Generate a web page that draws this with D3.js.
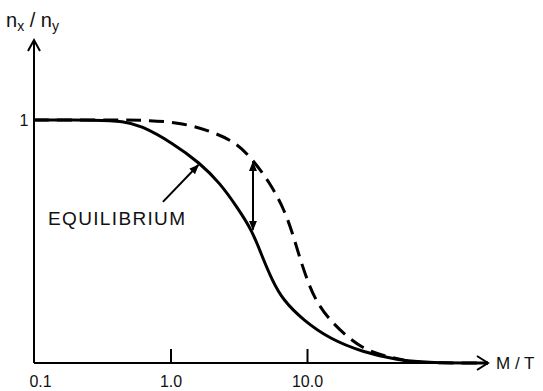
<!DOCTYPE html>
<html>
<head>
<meta charset="utf-8">
<script src="https://cdn.jsdelivr.net/npm/d3@7"></script>
<style>
  body { margin: 0; background: #fff; }
  svg { font-family: "Liberation Sans", Arial, sans-serif; }
</style>
</head>
<body>
<svg id="chart"></svg>
<script>
// equilibrium curve (solid) : M/T vs n_x/n_y
const eqMT  = [0.1, 0.3, 0.45, 0.6, 1.04, 1.64, 2.3, 3.07, 3.95, 4.68, 5.54, 6.67, 9.35, 14.7, 25.7, 45.6, 80, 212];
const eqVal = [1.0, 1.0, 0.995, 0.979, 0.905, 0.823, 0.741, 0.642, 0.547, 0.44, 0.342, 0.259, 0.177, 0.099, 0.045, 0.012, 0.0, 0.0];
// actual curve (dashed)
const acMT  = [0.1, 0.4, 0.7, 1.23, 2.05, 3.07, 4.02, 5.36, 6.9, 8.03, 9.04, 10.35, 11.6, 14.0, 19.6, 27.5, 42.7, 57, 94, 212];
const acVal = [1.0, 1.0, 0.999, 0.988, 0.951, 0.905, 0.835, 0.741, 0.626, 0.514, 0.416, 0.321, 0.259, 0.189, 0.107, 0.049, 0.021, 0.004, 0.0, 0.0];
// x tick labels
const tickVals   = [0.1, 1, 10];
const tickLabels = ["0.1", "1.0", "10.0"];

const W = 543, H = 391;
const svg = d3.select("#chart").attr("width", W).attr("height", H);

const x = d3.scaleLog().domain([0.1, 10]).range([34, 307]);
const y = d3.scaleLinear().domain([0, 1]).range([363, 120]);
const xEnd = 488, yTop = 40;

// filled arrowhead
const defs = svg.append("defs");
defs.append("marker")
  .attr("id", "tri")
  .attr("viewBox", "0 0 10 10")
  .attr("refX", 9).attr("refY", 5)
  .attr("markerWidth", 5).attr("markerHeight", 5)
  .attr("markerUnits", "strokeWidth")
  .attr("orient", "auto-start-reverse")
  .append("path").attr("d", "M0,1 L10,5 L0,9 Z").attr("fill", "#000");

// x axis
const xAxis = d3.axisBottom(x)
  .tickValues(tickVals)
  .tickSize(-14)
  .tickFormat((d, i) => tickLabels[i]);

const gx = svg.append("g")
  .attr("transform", "translate(0," + y(0) + ")")
  .call(xAxis);
gx.select(".domain").remove();
gx.selectAll(".tick line").attr("stroke", "#000").attr("stroke-width", 2);
gx.selectAll(".tick text")
  .attr("y", 13)
  .attr("dy", "0.71em")
  .attr("font-size", 16)
  .attr("font-family", "Liberation Sans, Arial, sans-serif")
  .attr("fill", "#111");
gx.selectAll(".tick").filter(d => d === 0.1).select("line").remove();
gx.selectAll(".tick").filter(d => d === 0.1).select("text").attr("dx", 6);

// axis lines with open arrows
svg.append("line")
  .attr("x1", x(0.1)).attr("y1", y(0)).attr("x2", xEnd).attr("y2", y(0))
  .attr("stroke", "#000").attr("stroke-width", 2);
svg.append("path")
  .attr("d", "M" + (xEnd - 11) + "," + (y(0) - 7) + " L" + xEnd + "," + y(0) + " L" + (xEnd - 11) + "," + (y(0) + 7))
  .attr("fill", "none").attr("stroke", "#000").attr("stroke-width", 2);

svg.append("line")
  .attr("x1", x(0.1)).attr("y1", y(0)).attr("x2", x(0.1)).attr("y2", yTop)
  .attr("stroke", "#000").attr("stroke-width", 2);
svg.append("path")
  .attr("d", "M" + (x(0.1) - 6) + "," + (yTop + 11) + " L" + x(0.1) + "," + yTop + " L" + (x(0.1) + 6) + "," + (yTop + 11))
  .attr("fill", "none").attr("stroke", "#000").attr("stroke-width", 2);

// axis labels
svg.append("text")
  .attr("x", xEnd + 8).attr("y", y(0) + 6)
  .attr("font-size", 17).attr("fill", "#111")
  .text("M / T");

const yl = svg.append("text")
  .attr("x", 6).attr("y", 27)
  .attr("font-size", 20).attr("fill", "#111");
yl.append("tspan").text("n");
yl.append("tspan").attr("font-size", 14).attr("dy", 4).text("x");
yl.append("tspan").attr("dy", -4).text(" / n");
yl.append("tspan").attr("font-size", 14).attr("dy", 4).text("y");

svg.append("text")
  .attr("x", 24).attr("y", y(1) + 6)
  .attr("text-anchor", "middle")
  .attr("font-size", 16).attr("fill", "#111")
  .text("1");

// curves
const line = d3.line()
  .x(d => x(d[0]))
  .y(d => y(d[1]))
  .curve(d3.curveBasis);

svg.append("path")
  .datum(eqMT.map((m, i) => [m, eqVal[i]]))
  .attr("d", line)
  .attr("fill", "none")
  .attr("stroke", "#000")
  .attr("stroke-width", 3);

svg.append("path")
  .datum(acMT.map((m, i) => [m, acVal[i]]))
  .attr("d", line)
  .attr("fill", "none")
  .attr("stroke", "#000")
  .attr("stroke-width", 3)
  .attr("stroke-dasharray", "15,8");

// double arrow between the curves
const gapMT = 4.02;
svg.append("line")
  .attr("x1", x(gapMT)).attr("y1", y(0.835) + 2)
  .attr("x2", x(gapMT)).attr("y2", y(0.54) - 2)
  .attr("stroke", "#000").attr("stroke-width", 2)
  .attr("marker-start", "url(#tri)")
  .attr("marker-end", "url(#tri)");

// EQUILIBRIUM label + pointer
svg.append("line")
  .attr("x1", x(0.88)).attr("y1", y(0.663))
  .attr("x2", x(1.6)).attr("y2", y(0.815))
  .attr("stroke", "#000").attr("stroke-width", 2)
  .attr("marker-end", "url(#tri)");

svg.append("text")
  .attr("x", 48).attr("y", 225)
  .attr("font-size", 19)
  .attr("fill", "#111")
  .attr("textLength", 137)
  .text("EQUILIBRIUM");
</script>
</body>
</html>
